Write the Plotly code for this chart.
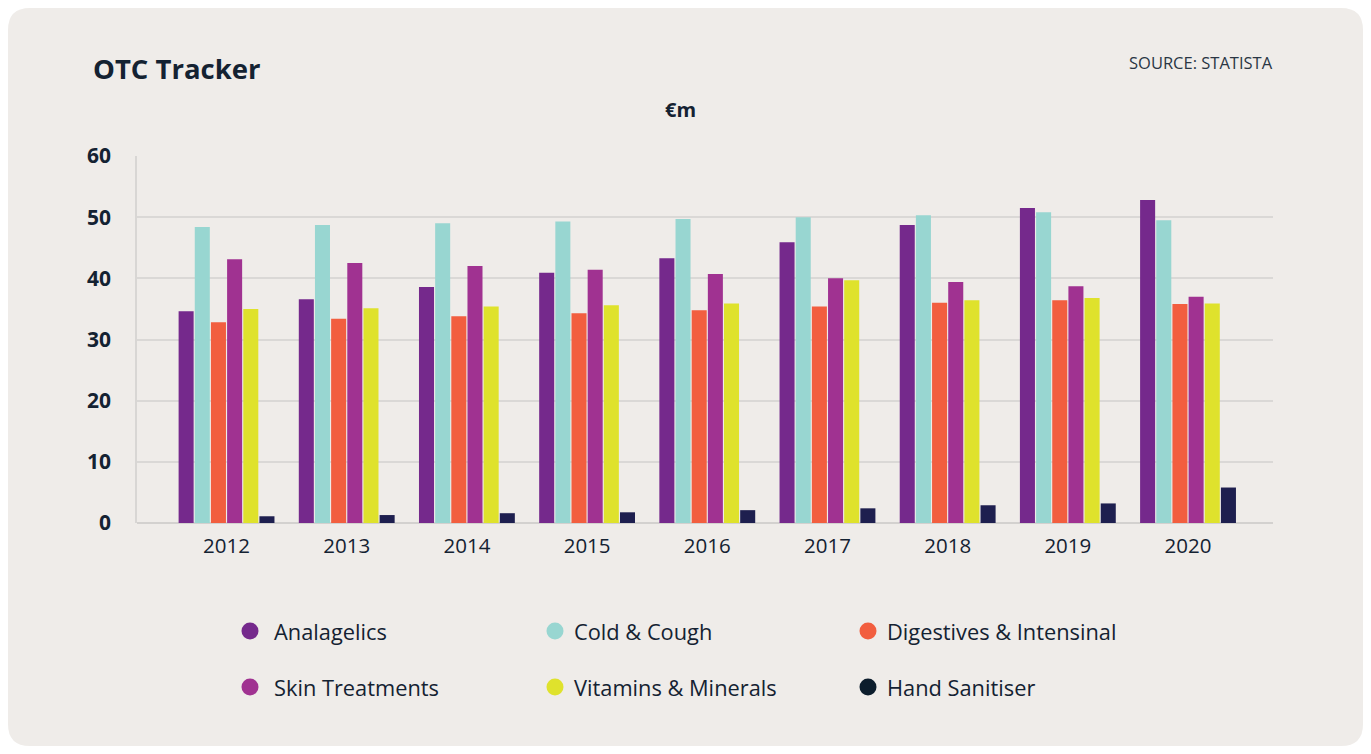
import plotly.graph_objects as go

years = ["2012", "2013", "2014", "2015", "2016", "2017", "2018", "2019", "2020"]
analagelics = [34.6, 36.6, 38.6, 40.9, 43.3, 45.9, 48.7, 51.5, 52.8]
cold_cough = [48.4, 48.7, 49.0, 49.3, 49.7, 50.0, 50.3, 50.8, 49.5]
digestives = [32.8, 33.4, 33.8, 34.3, 34.8, 35.4, 36.0, 36.4, 35.8]
skin = [43.1, 42.5, 42.0, 41.4, 40.7, 40.0, 39.4, 38.7, 37.0]
vitamins = [35.0, 35.1, 35.4, 35.6, 35.9, 39.7, 36.4, 36.8, 35.9]
hand = [1.1, 1.3, 1.6, 1.75, 2.1, 2.4, 2.9, 3.2, 5.8]
series_names = ["Analagelics", "Cold & Cough", "Digestives & Intensinal",
                "Skin Treatments", "Vitamins & Minerals", "Hand Sanitiser"]
y_ticks = [0, 10, 20, 30, 40, 50, 60]

series_values = [analagelics, cold_cough, digestives, skin, vitamins, hand]
bar_colors = ["#75298C", "#98D6D1", "#F25E3F", "#A03291", "#DFE22C", "#1E1F4F"]
legend_colors = ["#75298C", "#98D6D1", "#F25E3F", "#A03291", "#DFE22C", "#0C1D2C"]

BG = "#EFECE9"
TXT = "#142232"
FONT = "Open Sans"

fig = go.Figure()
for name, vals, col in zip(series_names, series_values, bar_colors):
    fig.add_trace(go.Bar(x=years, y=vals, name=name, marker_color=col,
                         marker_line_width=0, showlegend=False))

# layout geometry (figure pixels); page offset 8 for body margin
W, H = 1355, 738
L, T, PW, PH = 129, 148, 1136, 367
OFF = 8


def xp(X):
    return (X - OFF - L) / PW


def yp(Y):
    return (T + PH - (Y - OFF)) / PH


annotations = [
    dict(text="<b>OTC Tracker</b>", x=xp(91), y=yp(68), xanchor="left", yanchor="middle",
         font=dict(size=27.5, color=TXT, family=FONT)),
    dict(text="SOURCE: STATISTA", x=xp(1275), y=yp(62), xanchor="right", yanchor="middle",
         font=dict(size=16.5, color="#2a3644", family=FONT)),
    dict(text="<b>€m</b>", x=xp(680), y=yp(109), xanchor="center", yanchor="middle",
         font=dict(size=20, color=TXT, family=FONT)),
]

# rounded card background
x0, x1, y0, y1, r = OFF, OFF + W, OFF, OFF + H, 22
card_path = (
    f"M {xp(x0 + r)},{yp(y0)} L {xp(x1 - r)},{yp(y0)} "
    f"Q {xp(x1)},{yp(y0)} {xp(x1)},{yp(y0 + r)} "
    f"L {xp(x1)},{yp(y1 - r)} Q {xp(x1)},{yp(y1)} {xp(x1 - r)},{yp(y1)} "
    f"L {xp(x0 + r)},{yp(y1)} Q {xp(x0)},{yp(y1)} {xp(x0)},{yp(y1 - r)} "
    f"L {xp(x0)},{yp(y0 + r)} Q {xp(x0)},{yp(y0)} {xp(x0 + r)},{yp(y0)} Z"
)
shapes = [dict(type="path", xref="paper", yref="paper", path=card_path,
               fillcolor=BG, line_width=0, layer="below")]
legend_pos = [(250, 631, 272), (555, 631, 572), (868, 631, 885),
              (250, 687, 272), (555, 687, 572), (868, 687, 885)]
R = 8.5
for (cx, cy, tx), name, col in zip(legend_pos, series_names, legend_colors):
    shapes.append(dict(type="circle", xref="paper", yref="paper",
                       x0=xp(cx - R), x1=xp(cx + R), y0=yp(cy + R), y1=yp(cy - R),
                       fillcolor=col, line_width=0))
    annotations.append(dict(text=name, x=xp(tx), y=yp(cy), xanchor="left", yanchor="middle",
                            font=dict(size=21.8, color=TXT, family=FONT)))
for a in annotations:
    a.update(xref="paper", yref="paper", showarrow=False)

fig.update_layout(
    width=W, height=H,
    margin=dict(l=L, r=W - L - PW, t=T, b=H - T - PH, pad=0),
    paper_bgcolor="white", plot_bgcolor="rgba(0,0,0,0)",
    barmode="group", bargap=0.193, bargroupgap=0.07,
    font=dict(family=FONT, color=TXT),
    annotations=annotations, shapes=shapes,
)
fig.update_xaxes(type="category", range=[-0.745, 8.707], showgrid=False,
                 showline=False, ticks="", tickfont=dict(size=20.5, color=TXT, family=FONT),
                 ticklabelstandoff=8)
fig.update_yaxes(range=[0, 60], tickvals=y_ticks, showgrid=True, gridcolor="#DAD8D6",
                 gridwidth=1.5, zeroline=True, zerolinecolor="#D3D1CF", zerolinewidth=2,
                 showline=True, linecolor="#D8D6D4", linewidth=1.5, ticks="",
                 tickfont=dict(size=21, color=TXT, family=FONT, weight="bold"),
                 ticklabelstandoff=20)

fig.write_html("out.html")
